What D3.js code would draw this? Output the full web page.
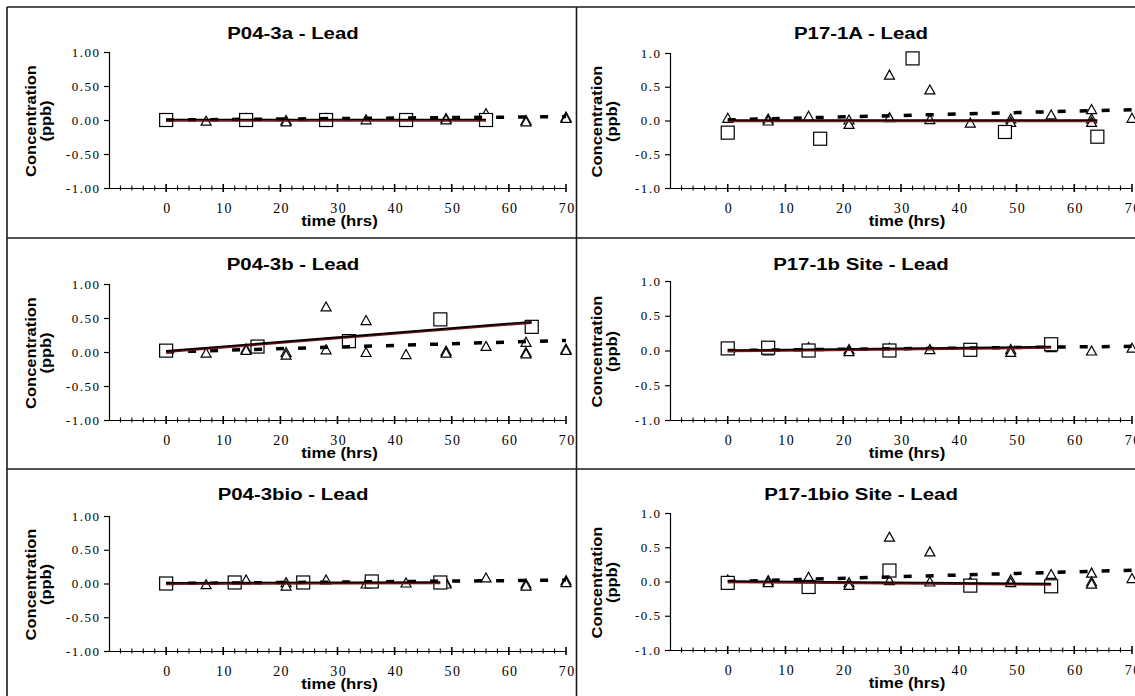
<!DOCTYPE html>
<html><head><meta charset="utf-8">
<script src="https://cdn.jsdelivr.net/npm/d3@7"></script>
<style>body{margin:0;background:#fff}svg{display:block}</style>
</head><body>
<svg id="c" width="1135" height="696"></svg>
<script>
// ---------- DATA ----------
const panelTitles = ["P04-3a - Lead","P17-1A - Lead","P04-3b - Lead","P17-1b Site - Lead","P04-3bio - Lead","P17-1bio Site - Lead"];
const xTickLabels = [0,10,20,30,40,50,60,70];
const xMinorTicks = d3.range(-8, 71, 2);
const yTickValues = [-1,-0.5,0,0.5,1];
const yTickDecimals = [2,1,2,1,2,1];
const xAxisTitle = "time (hrs)";
const yAxisTitle = ["Concentration","(ppb)"];

// squares (sample series)
const sqTime_P04_3a = [0,14,28,42,56];
const sqVal_P04_3a  = [0,0,0,0,0];
const sqTime_P17_1A = [0,16,32,48,64];
const sqVal_P17_1A  = [-0.18,-0.27,0.92,-0.17,-0.24];
const sqTime_P04_3b = [0,16,32,48,64];
const sqVal_P04_3b  = [0.02,0.08,0.16,0.48,0.37];
const sqTime_P17_1b = [0,7,14,28,42,56];
const sqVal_P17_1b  = [0.03,0.04,0.0,0.0,0.01,0.09];
const sqTime_P04_3bio = [0,12,24,36,48];
const sqVal_P04_3bio  = [0,0.015,0.015,0.03,0.015];
const sqTime_P17_1bio = [0,14,28,42,56];
const sqVal_P17_1bio  = [-0.02,-0.08,0.16,-0.06,-0.07];

// triangles (comparison series)
const trTime_P04_3a = [0,7,14,21,21,28,35,42,49,49,56,63,63,70,70];
const trVal_P04_3a  = [0,-0.01,0.03,0.0,-0.02,0.03,0.01,0.0,0.03,0.01,0.1,0.0,-0.02,0.05,0.03];
const trTime_P17_1A = [0,7,7,14,21,21,28,28,35,35,42,49,49,56,63,63,63,70];
const trVal_P17_1A  = [0.04,0.03,0.0,0.07,0.015,-0.05,0.68,0.05,0.46,0.02,-0.03,0.03,-0.02,0.09,0.17,0.03,-0.02,0.04];
const trTime_P04_3b = [0,7,14,14,21,21,28,28,35,35,42,49,49,56,63,63,63,70,70];
const trVal_P04_3b  = [0.0,-0.01,0.05,0.03,0.0,-0.04,0.67,0.04,0.47,0.0,-0.03,0.02,-0.01,0.09,0.15,0.0,-0.02,0.05,0.03];
const trTime_P17_1b = [0,7,14,21,21,28,35,42,49,49,56,63,70];
const trVal_P17_1b  = [0.01,0.0,0.05,0.02,-0.01,0.04,0.02,0.01,0.02,-0.02,0.05,0.0,0.04];
const trTime_P04_3bio = [0,7,14,21,21,28,35,42,49,49,56,63,63,70,70];
const trVal_P04_3bio  = [0.0,-0.01,0.06,0.02,-0.03,0.06,0.0,0.015,0.02,0.0,0.09,0.0,-0.03,0.05,0.02];
const trTime_P17_1bio = [0,7,7,14,21,21,28,28,35,35,42,49,49,56,63,63,63,70];
const trVal_P17_1bio  = [0.03,0.02,-0.01,0.07,-0.01,-0.05,0.655,0.02,0.44,0.0,0.0,0.03,-0.01,0.11,0.13,0.0,-0.03,0.05];

// trend lines [t0, v0, t1, v1]
const solidTrend = [[0,0,56,0],[0,0,64,0],[0,0.01,64,0.44],[0,0,56,0.05],[0,0.005,48,0.015],[0,0,56,-0.035]];
const dashTrend  = [[0,0,70,0.05],[0,0.01,70,0.16],[0,0,70,0.17],[0,0,70,0.06],[0,0,70,0.05],[0,0,70,0.165]];

const squareTimes = [sqTime_P04_3a, sqTime_P17_1A, sqTime_P04_3b, sqTime_P17_1b, sqTime_P04_3bio, sqTime_P17_1bio];
const squareVals  = [sqVal_P04_3a, sqVal_P17_1A, sqVal_P04_3b, sqVal_P17_1b, sqVal_P04_3bio, sqVal_P17_1bio];
const triTimes = [trTime_P04_3a, trTime_P17_1A, trTime_P04_3b, trTime_P17_1b, trTime_P04_3bio, trTime_P17_1bio];
const triVals  = [trVal_P04_3a, trVal_P17_1A, trVal_P04_3b, trVal_P17_1b, trVal_P04_3bio, trVal_P17_1bio];

// ---------- LAYOUT ----------
const layout = [
  {xl:109, xr:566, yt:52,  yb:188, yl1:35.5, yl2:51, titleX:293, xtX:339.5},
  {xl:670, xr:1132, yt:53, yb:188, yl1:601.5, yl2:617, titleX:861, xtX:907},
  {xl:109, xr:566, yt:284, yb:420, yl1:35.5, yl2:51, titleX:293, xtX:339.5},
  {xl:670, xr:1132, yt:281, yb:420, yl1:601.5, yl2:617, titleX:861, xtX:907},
  {xl:109, xr:566, yt:516, yb:651, yl1:35.5, yl2:51, titleX:293, xtX:339.5},
  {xl:670, xr:1132, yt:513, yb:650, yl1:601.5, yl2:617, titleX:861, xtX:907}
];
const titleBase = [39, 39, 270, 270, 500, 500];

const svg = d3.select("#c");
svg.append("rect").attr("width",1135).attr("height",696).attr("fill","#fff");

const SANS = "'Liberation Sans', Arial, sans-serif";
const SERIF = "'Liberation Serif', 'Times New Roman', serif";

function stretchedText(g, x, y, txt, size, sx, rotate) {
  return g.append("g").attr("transform", `translate(${x},${y}) rotate(${rotate||0}) scale(${sx},1)`)
    .append("text").attr("text-anchor","middle")
    .attr("font-family", SANS).attr("font-weight","bold").attr("font-size", size)
    .attr("fill","#000").text(txt);
}

function triPath(cx, cy) {
  const w = 10, h = 9;
  return `M${cx},${cy-h/2}L${cx+w/2},${cy+h/2}L${cx-w/2},${cy+h/2}Z`;
}

layout.forEach((L, i) => {
  const g = svg.append("g");
  const x = d3.scaleLinear().domain([-10, 70]).range([L.xl, L.xr]);
  const y = d3.scaleLinear().domain([-1, 1]).range([L.yb, L.yt]);
  const dec = yTickDecimals[i];

  // y axis
  const ya = g.append("g").attr("transform", `translate(${L.xl},0)`)
    .call(d3.axisLeft(y).tickValues(yTickValues).tickSize(5).tickPadding(5)
      .tickFormat(d => (Math.abs(d) < 1e-9 ? 0 : d).toFixed(dec)));
  ya.select(".domain").attr("stroke","#000").attr("stroke-width",1.2);
  ya.selectAll(".tick line").attr("stroke","#000").attr("stroke-width",1.2);
  ya.selectAll(".tick text").attr("font-family", SERIF).attr("font-size", 13)
    .attr("letter-spacing", "1.5px").attr("dx", "1.5").attr("fill","#000");

  // x axis (labels)
  const xa = g.append("g").attr("transform", `translate(0,${L.yb})`)
    .call(d3.axisBottom(x).tickValues(xTickLabels).tickSize(0).tickPadding(15.5).tickFormat(d3.format("d")));
  xa.select(".domain").attr("stroke","#000").attr("stroke-width",1.2);
  xa.selectAll(".tick text").attr("font-family", SERIF).attr("font-size", 14)
    .attr("letter-spacing","1.3px").attr("dx","0.65").attr("fill","#000");
  // crossing ticks
  g.append("g").selectAll("line").data(xMinorTicks).join("line")
    .attr("x1", d => x(d)).attr("x2", d => x(d))
    .attr("y1", d => L.yb - (d % 10 === 0 ? 4 : 2.5))
    .attr("y2", d => L.yb + (d % 10 === 0 ? 4 : 2.5))
    .attr("stroke", "#000").attr("stroke-width", d => d % 10 === 0 ? 1.6 : 1.1);

  // titles
  stretchedText(g, L.titleX, titleBase[i], panelTitles[i], 17, 1.2, 0);
  stretchedText(g, L.xtX, L.yb + 37.5, xAxisTitle, 14, 1.2, 0);
  const yc = y(0) + 1;
  stretchedText(g, L.yl1, yc, yAxisTitle[0], 14, 1.18, -90);
  stretchedText(g, L.yl2, yc, yAxisTitle[1], 14, 1.18, -90);

  // triangles
  const tri = triTimes[i].map((t, k) => ({t, v: triVals[i][k]}));
  g.append("g").selectAll("path").data(tri).join("path")
    .attr("d", d => triPath(x(d.t), y(d.v)))
    .attr("fill", "#fff").attr("stroke", "#000").attr("stroke-width", 1.2);

  // squares
  const sq = squareTimes[i].map((t, k) => ({t, v: squareVals[i][k]}));
  g.append("g").selectAll("rect").data(sq).join("rect")
    .attr("x", d => x(d.t) - 6.5).attr("y", d => y(d.v) - 6.5)
    .attr("width", 13).attr("height", 13)
    .attr("fill", "#fff").attr("stroke", "#000").attr("stroke-width", 1.2);

  // dashed trend
  const dt = dashTrend[i];
  g.append("line")
    .attr("x1", x(dt[0])).attr("y1", y(dt[1])).attr("x2", x(dt[2])).attr("y2", y(dt[3]))
    .attr("stroke", "#000").attr("stroke-width", 3.5).attr("stroke-dasharray", "8,14");

  // solid trend (dark red under black)
  const st = solidTrend[i];
  g.append("line")
    .attr("x1", x(st[0])).attr("y1", y(st[1]) + 1).attr("x2", x(st[2])).attr("y2", y(st[3]) + 1)
    .attr("stroke", "#8b1010").attr("stroke-width", 1.6);
  g.append("line")
    .attr("x1", x(st[0])).attr("y1", y(st[1]) - 0.3).attr("x2", x(st[2])).attr("y2", y(st[3]) - 0.3)
    .attr("stroke", "#000").attr("stroke-width", 1.8);
});

// panel frames
const frame = svg.append("g").attr("stroke", "#1a1a1a").attr("stroke-width", 1.6).attr("fill","none");
frame.append("line").attr("x1",7).attr("y1",7).attr("x2",1135).attr("y2",7);
frame.append("line").attr("x1",7).attr("y1",7).attr("x2",7).attr("y2",696);
frame.append("line").attr("x1",576.5).attr("y1",7).attr("x2",576.5).attr("y2",696);
frame.append("line").attr("x1",7).attr("y1",238).attr("x2",1135).attr("y2",238);
frame.append("line").attr("x1",7).attr("y1",469).attr("x2",1135).attr("y2",469);
</script>
</body></html>
